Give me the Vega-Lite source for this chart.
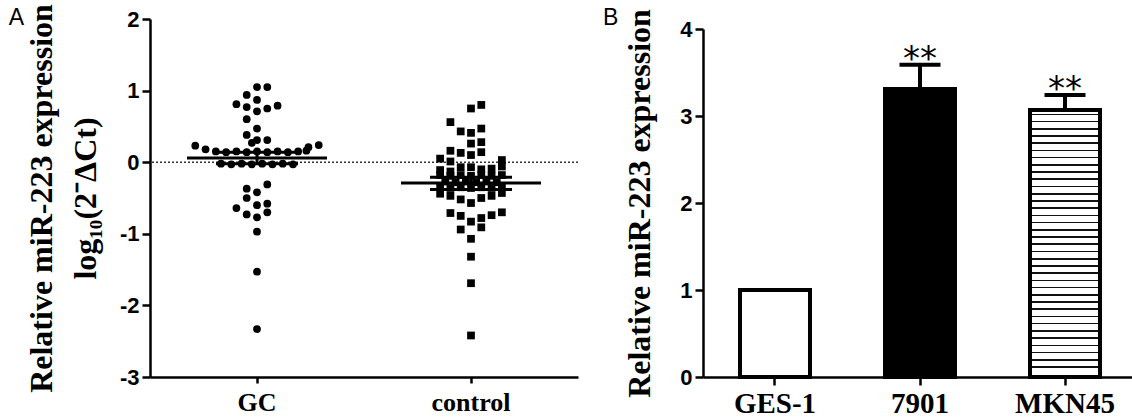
{
  "$schema": "https://vega.github.io/schema/vega-lite/v6.json",
  "padding": {"left": 8, "top": 3, "right": 0, "bottom": 0},
  "background": "white",
  "spacing": 24,
  "config": {
    "view": {"stroke": null},
    "axis": {"grid": false, "domainColor": "black", "tickColor": "black", "labelColor": "black", "titleColor": "black", "domainWidth": 2.5, "tickWidth": 2.5},
    "title": {"color": "black"}
  },
  "datasets": {
    "pts": [
      {"group": "GC", "value": 1.05, "col": 0}, {"group": "GC", "value": 1.05, "col": 1}, {"group": "GC", "value": 0.94, "col": -1},
      {"group": "GC", "value": 0.87, "col": 0}, {"group": "GC", "value": 0.81, "col": -2}, {"group": "GC", "value": 0.77, "col": -1},
      {"group": "GC", "value": 0.71, "col": 0}, {"group": "GC", "value": 0.75, "col": 1}, {"group": "GC", "value": 0.79, "col": 2},
      {"group": "GC", "value": 0.60, "col": -1}, {"group": "GC", "value": 0.47, "col": 0}, {"group": "GC", "value": 0.38, "col": -1},
      {"group": "GC", "value": 0.31, "col": 0}, {"group": "GC", "value": 0.27, "col": -0.5}, {"group": "GC", "value": 0.31, "col": 1},
      {"group": "GC", "value": 0.23, "col": -6}, {"group": "GC", "value": 0.18, "col": -5}, {"group": "GC", "value": 0.21, "col": 5},
      {"group": "GC", "value": 0.24, "col": 6},
      {"group": "GC", "value": 0.15, "col": -4}, {"group": "GC", "value": 0.14, "col": -3}, {"group": "GC", "value": 0.15, "col": -2},
      {"group": "GC", "value": 0.14, "col": -1}, {"group": "GC", "value": 0.15, "col": 0}, {"group": "GC", "value": 0.14, "col": 1},
      {"group": "GC", "value": 0.15, "col": 2}, {"group": "GC", "value": 0.14, "col": 3}, {"group": "GC", "value": 0.15, "col": 4},
      {"group": "GC", "value": 0.16, "col": 4.8},
      {"group": "GC", "value": -0.02, "col": -3.5}, {"group": "GC", "value": -0.03, "col": -2.5}, {"group": "GC", "value": -0.02, "col": -1.5},
      {"group": "GC", "value": -0.03, "col": -0.5}, {"group": "GC", "value": -0.02, "col": 0.5}, {"group": "GC", "value": -0.03, "col": 1.5},
      {"group": "GC", "value": -0.02, "col": 2.5}, {"group": "GC", "value": -0.03, "col": 3.5},
      {"group": "GC", "value": -0.31, "col": 1}, {"group": "GC", "value": -0.37, "col": -1}, {"group": "GC", "value": -0.42, "col": 0},
      {"group": "GC", "value": -0.50, "col": -1}, {"group": "GC", "value": -0.58, "col": 1}, {"group": "GC", "value": -0.60, "col": 0},
      {"group": "GC", "value": -0.64, "col": -2}, {"group": "GC", "value": -0.70, "col": 1}, {"group": "GC", "value": -0.73, "col": -1},
      {"group": "GC", "value": -0.77, "col": 0}, {"group": "GC", "value": -0.97, "col": 0}, {"group": "GC", "value": -1.53, "col": 0},
      {"group": "GC", "value": -2.33, "col": 0},
      {"group": "control", "value": 0.80, "col": 1}, {"group": "control", "value": 0.75, "col": 0}, {"group": "control", "value": 0.56, "col": -2},
      {"group": "control", "value": 0.47, "col": 1}, {"group": "control", "value": 0.43, "col": -1}, {"group": "control", "value": 0.41, "col": 0},
      {"group": "control", "value": 0.28, "col": 1}, {"group": "control", "value": 0.26, "col": 0}, {"group": "control", "value": 0.16, "col": -2},
      {"group": "control", "value": 0.14, "col": 1}, {"group": "control", "value": 0.13, "col": -1}, {"group": "control", "value": 0.10, "col": 0},
      {"group": "control", "value": 0.05, "col": -3}, {"group": "control", "value": 0.01, "col": -2}, {"group": "control", "value": 0.03, "col": 3},
      {"group": "control", "value": -0.11, "col": -3}, {"group": "control", "value": -0.13, "col": -2}, {"group": "control", "value": -0.07, "col": -1},
      {"group": "control", "value": -0.07, "col": 0}, {"group": "control", "value": -0.10, "col": 1}, {"group": "control", "value": -0.09, "col": 2},
      {"group": "control", "value": -0.06, "col": 3},
      {"group": "control", "value": -0.18, "col": -3}, {"group": "control", "value": -0.19, "col": -2}, {"group": "control", "value": -0.18, "col": -1},
      {"group": "control", "value": -0.19, "col": 0}, {"group": "control", "value": -0.18, "col": 1}, {"group": "control", "value": -0.19, "col": 2},
      {"group": "control", "value": -0.18, "col": 3},
      {"group": "control", "value": -0.27, "col": -2.5}, {"group": "control", "value": -0.28, "col": -1.5}, {"group": "control", "value": -0.27, "col": -0.5},
      {"group": "control", "value": -0.28, "col": 0.5}, {"group": "control", "value": -0.27, "col": 1.5}, {"group": "control", "value": -0.28, "col": 2.5},
      {"group": "control", "value": -0.35, "col": -3}, {"group": "control", "value": -0.36, "col": -2}, {"group": "control", "value": -0.35, "col": -1},
      {"group": "control", "value": -0.36, "col": 0}, {"group": "control", "value": -0.35, "col": 1}, {"group": "control", "value": -0.36, "col": 2},
      {"group": "control", "value": -0.35, "col": 3},
      {"group": "control", "value": -0.43, "col": 3}, {"group": "control", "value": -0.44, "col": -3}, {"group": "control", "value": -0.47, "col": -2},
      {"group": "control", "value": -0.52, "col": -1}, {"group": "control", "value": -0.57, "col": 0}, {"group": "control", "value": -0.50, "col": 1},
      {"group": "control", "value": -0.47, "col": 2},
      {"group": "control", "value": -0.71, "col": -2}, {"group": "control", "value": -0.75, "col": -1}, {"group": "control", "value": -0.83, "col": 0},
      {"group": "control", "value": -0.78, "col": 1}, {"group": "control", "value": -0.74, "col": 2}, {"group": "control", "value": -0.70, "col": 3},
      {"group": "control", "value": -0.94, "col": -1}, {"group": "control", "value": -0.91, "col": 1}, {"group": "control", "value": -1.07, "col": 0},
      {"group": "control", "value": -1.32, "col": 0}, {"group": "control", "value": -1.69, "col": 0}, {"group": "control", "value": -2.42, "col": 0}
    ],
    "summ": [
      {"group": "GC", "mean": 0.06, "lo": -0.02, "hi": 0.14},
      {"group": "control", "mean": -0.29, "lo": -0.38, "hi": -0.21}
    ],
    "bars": [
      {"cell": "GES-1", "mean": 1.0, "hi": null, "sig": ""},
      {"cell": "7901", "mean": 3.31, "hi": 3.59, "sig": "**"},
      {"cell": "MKN45", "mean": 3.07, "hi": 3.24, "sig": "**"}
    ]
  },
  "hconcat": [
    {
      "width": 428,
      "height": 358,
      "title": {"text": "A", "orient": "left", "anchor": "end", "frame": "group", "angle": 0, "align": "right", "baseline": "top", "dy": -12, "offset": -14, "fontSize": 23, "fontWeight": "normal", "font": "Liberation Sans"},
      "layer": [
        {
          "data": {"values": [{}]},
          "mark": {"type": "rule", "strokeDash": [2, 2], "strokeWidth": 1.5, "color": "#333"},
          "encoding": {"y": {"datum": 0, "type": "quantitative"}}
        },
        {
          "data": {"name": "pts"},
          "mark": {"type": "point", "filled": true, "size": 60, "opacity": 1, "color": "black"},
          "encoding": {
            "x": {"field": "group", "type": "nominal", "sort": ["GC", "control"],
                  "scale": {"type": "band", "paddingInner": 0, "paddingOuter": 0},
                  "axis": {"title": null, "labelAngle": 0, "tickSize": 6, "labelPadding": 6, "labelFont": "Liberation Serif", "labelFontWeight": "bold", "labelFontSize": 26}},
            "xOffset": {"field": "col", "type": "quantitative", "scale": {"domain": [-10.4, 10.4]}},
            "y": {"field": "value", "type": "quantitative",
                  "scale": {"domain": [-3, 2], "nice": false, "zero": false},
                  "axis": {"values": [-3, -2, -1, 0, 1, 2], "labelExpr": "'' + datum.value", "tickSize": 8, "labelPadding": 3,
                           "labelFont": "Liberation Sans", "labelFontWeight": "bold", "labelFontSize": 22,
                           "title": ["Relative miR-223 expression", "log₁₀(2⁻ΔCt)"], "titleFont": "Liberation Serif", "titleFontWeight": "bold", "titleFontSize": 32, "titleLineHeight": 44, "titlePadding": 17}},
            "shape": {"field": "group", "type": "nominal", "scale": {"domain": ["GC", "control"], "range": ["circle", "square"]}, "legend": null}
          }
        },
        {
          "data": {"name": "summ"},
          "mark": {"type": "tick", "thickness": 3, "size": 140, "color": "black", "opacity": 1},
          "encoding": {
            "x": {"field": "group", "type": "nominal", "sort": ["GC", "control"], "scale": {"type": "band", "paddingInner": 0, "paddingOuter": 0}},
            "y": {"field": "mean", "type": "quantitative"}
          }
        },
        {
          "data": {"name": "summ"},
          "mark": {"type": "rule", "strokeWidth": 3, "color": "black", "opacity": 1},
          "encoding": {
            "x": {"field": "group", "type": "nominal", "sort": ["GC", "control"], "scale": {"type": "band", "paddingInner": 0, "paddingOuter": 0}},
            "y": {"field": "lo", "type": "quantitative"},
            "y2": {"field": "hi"}
          }
        },
        {
          "data": {"name": "summ"},
          "mark": {"type": "tick", "thickness": 3, "size": 82, "color": "black", "opacity": 1},
          "encoding": {
            "x": {"field": "group", "type": "nominal", "sort": ["GC", "control"], "scale": {"type": "band", "paddingInner": 0, "paddingOuter": 0}},
            "y": {"field": "lo", "type": "quantitative"}
          }
        },
        {
          "data": {"name": "summ"},
          "mark": {"type": "tick", "thickness": 3, "size": 82, "color": "black", "opacity": 1},
          "encoding": {
            "x": {"field": "group", "type": "nominal", "sort": ["GC", "control"], "scale": {"type": "band", "paddingInner": 0, "paddingOuter": 0}},
            "y": {"field": "hi", "type": "quantitative"}
          }
        }
      ]
    },
    {
      "width": 434,
      "height": 358,
      "data": {"name": "bars"},
      "title": {"text": "B", "orient": "left", "anchor": "end", "frame": "group", "angle": 0, "align": "right", "baseline": "top", "dy": -12, "offset": -10, "fontSize": 23, "fontWeight": "normal", "font": "Liberation Sans"},
      "layer": [
        {
          "mark": {"type": "bar", "stroke": "black", "strokeWidth": 4, "strokeJoin": "miter", "width": 70},
          "encoding": {
            "x": {"field": "cell", "type": "nominal", "sort": ["GES-1", "7901", "MKN45"],
                  "scale": {"type": "band", "paddingInner": 0.517, "paddingOuter": 0.255},
                  "axis": {"title": null, "labelAngle": 0, "tickSize": 8, "labelPadding": 4, "labelFont": "Liberation Serif", "labelFontWeight": "bold", "labelFontSize": 29}},
            "y": {"field": "mean", "type": "quantitative",
                  "scale": {"domain": [0, 4], "nice": false, "range": [358, 10]},
                  "axis": {"values": [0, 1, 2, 3, 4], "labelExpr": "'' + datum.value", "tickSize": 8, "labelPadding": 3, "labelFont": "Liberation Sans", "labelFontWeight": "bold", "labelFontSize": 22,
                           "title": "Relative miR-223 expression", "titleFont": "Liberation Serif", "titleFontWeight": "bold", "titleFontSize": 32, "titlePadding": 23}},
            "fill": {
              "condition": [
                {"test": "datum.cell === '7901'", "value": "black"},
                {"test": "datum.cell === 'MKN45'", "value": {"gradient": "linear", "x1": 0, "y1": 0, "x2": 0, "y2": 1, "stops": [
                  {"offset": 0, "color": "white"},
                  {"offset": 0.0135, "color": "white"}, {"offset": 0.0135, "color": "#111"}, {"offset": 0.0195, "color": "#111"}, {"offset": 0.0195, "color": "white"},
                  {"offset": 0.0405, "color": "white"}, {"offset": 0.0405, "color": "#111"}, {"offset": 0.0465, "color": "#111"}, {"offset": 0.0465, "color": "white"},
                  {"offset": 0.0676, "color": "white"}, {"offset": 0.0676, "color": "#111"}, {"offset": 0.0736, "color": "#111"}, {"offset": 0.0736, "color": "white"},
                  {"offset": 0.0946, "color": "white"}, {"offset": 0.0946, "color": "#111"}, {"offset": 0.1006, "color": "#111"}, {"offset": 0.1006, "color": "white"},
                  {"offset": 0.1216, "color": "white"}, {"offset": 0.1216, "color": "#111"}, {"offset": 0.1276, "color": "#111"}, {"offset": 0.1276, "color": "white"},
                  {"offset": 0.1486, "color": "white"}, {"offset": 0.1486, "color": "#111"}, {"offset": 0.1546, "color": "#111"}, {"offset": 0.1546, "color": "white"},
                  {"offset": 0.1757, "color": "white"}, {"offset": 0.1757, "color": "#111"}, {"offset": 0.1817, "color": "#111"}, {"offset": 0.1817, "color": "white"},
                  {"offset": 0.2027, "color": "white"}, {"offset": 0.2027, "color": "#111"}, {"offset": 0.2087, "color": "#111"}, {"offset": 0.2087, "color": "white"},
                  {"offset": 0.2297, "color": "white"}, {"offset": 0.2297, "color": "#111"}, {"offset": 0.2357, "color": "#111"}, {"offset": 0.2357, "color": "white"},
                  {"offset": 0.2568, "color": "white"}, {"offset": 0.2568, "color": "#111"}, {"offset": 0.2628, "color": "#111"}, {"offset": 0.2628, "color": "white"},
                  {"offset": 0.2838, "color": "white"}, {"offset": 0.2838, "color": "#111"}, {"offset": 0.2898, "color": "#111"}, {"offset": 0.2898, "color": "white"},
                  {"offset": 0.3108, "color": "white"}, {"offset": 0.3108, "color": "#111"}, {"offset": 0.3168, "color": "#111"}, {"offset": 0.3168, "color": "white"},
                  {"offset": 0.3378, "color": "white"}, {"offset": 0.3378, "color": "#111"}, {"offset": 0.3438, "color": "#111"}, {"offset": 0.3438, "color": "white"},
                  {"offset": 0.3649, "color": "white"}, {"offset": 0.3649, "color": "#111"}, {"offset": 0.3709, "color": "#111"}, {"offset": 0.3709, "color": "white"},
                  {"offset": 0.3919, "color": "white"}, {"offset": 0.3919, "color": "#111"}, {"offset": 0.3979, "color": "#111"}, {"offset": 0.3979, "color": "white"},
                  {"offset": 0.4189, "color": "white"}, {"offset": 0.4189, "color": "#111"}, {"offset": 0.4249, "color": "#111"}, {"offset": 0.4249, "color": "white"},
                  {"offset": 0.4459, "color": "white"}, {"offset": 0.4459, "color": "#111"}, {"offset": 0.4519, "color": "#111"}, {"offset": 0.4519, "color": "white"},
                  {"offset": 0.473, "color": "white"}, {"offset": 0.473, "color": "#111"}, {"offset": 0.479, "color": "#111"}, {"offset": 0.479, "color": "white"},
                  {"offset": 0.5, "color": "white"}, {"offset": 0.5, "color": "#111"}, {"offset": 0.506, "color": "#111"}, {"offset": 0.506, "color": "white"},
                  {"offset": 0.527, "color": "white"}, {"offset": 0.527, "color": "#111"}, {"offset": 0.533, "color": "#111"}, {"offset": 0.533, "color": "white"},
                  {"offset": 0.5541, "color": "white"}, {"offset": 0.5541, "color": "#111"}, {"offset": 0.5601, "color": "#111"}, {"offset": 0.5601, "color": "white"},
                  {"offset": 0.5811, "color": "white"}, {"offset": 0.5811, "color": "#111"}, {"offset": 0.5871, "color": "#111"}, {"offset": 0.5871, "color": "white"},
                  {"offset": 0.6081, "color": "white"}, {"offset": 0.6081, "color": "#111"}, {"offset": 0.6141, "color": "#111"}, {"offset": 0.6141, "color": "white"},
                  {"offset": 0.6351, "color": "white"}, {"offset": 0.6351, "color": "#111"}, {"offset": 0.6411, "color": "#111"}, {"offset": 0.6411, "color": "white"},
                  {"offset": 0.6622, "color": "white"}, {"offset": 0.6622, "color": "#111"}, {"offset": 0.6682, "color": "#111"}, {"offset": 0.6682, "color": "white"},
                  {"offset": 0.6892, "color": "white"}, {"offset": 0.6892, "color": "#111"}, {"offset": 0.6952, "color": "#111"}, {"offset": 0.6952, "color": "white"},
                  {"offset": 0.7162, "color": "white"}, {"offset": 0.7162, "color": "#111"}, {"offset": 0.7222, "color": "#111"}, {"offset": 0.7222, "color": "white"},
                  {"offset": 0.7432, "color": "white"}, {"offset": 0.7432, "color": "#111"}, {"offset": 0.7492, "color": "#111"}, {"offset": 0.7492, "color": "white"},
                  {"offset": 0.7703, "color": "white"}, {"offset": 0.7703, "color": "#111"}, {"offset": 0.7763, "color": "#111"}, {"offset": 0.7763, "color": "white"},
                  {"offset": 0.7973, "color": "white"}, {"offset": 0.7973, "color": "#111"}, {"offset": 0.8033, "color": "#111"}, {"offset": 0.8033, "color": "white"},
                  {"offset": 0.8243, "color": "white"}, {"offset": 0.8243, "color": "#111"}, {"offset": 0.8303, "color": "#111"}, {"offset": 0.8303, "color": "white"},
                  {"offset": 0.8514, "color": "white"}, {"offset": 0.8514, "color": "#111"}, {"offset": 0.8574, "color": "#111"}, {"offset": 0.8574, "color": "white"},
                  {"offset": 0.8784, "color": "white"}, {"offset": 0.8784, "color": "#111"}, {"offset": 0.8844, "color": "#111"}, {"offset": 0.8844, "color": "white"},
                  {"offset": 0.9054, "color": "white"}, {"offset": 0.9054, "color": "#111"}, {"offset": 0.9114, "color": "#111"}, {"offset": 0.9114, "color": "white"},
                  {"offset": 0.9324, "color": "white"}, {"offset": 0.9324, "color": "#111"}, {"offset": 0.9384, "color": "#111"}, {"offset": 0.9384, "color": "white"},
                  {"offset": 0.9595, "color": "white"}, {"offset": 0.9595, "color": "#111"}, {"offset": 0.9655, "color": "#111"}, {"offset": 0.9655, "color": "white"},
                  {"offset": 1, "color": "white"}
                ]}}
              ],
              "value": "white"
            }
          }
        },
        {
          "transform": [{"filter": "datum.hi != null"}],
          "mark": {"type": "rule", "strokeWidth": 4, "color": "black", "opacity": 1},
          "encoding": {
            "x": {"field": "cell", "type": "nominal", "sort": ["GES-1", "7901", "MKN45"]},
            "y": {"field": "mean", "type": "quantitative"},
            "y2": {"field": "hi"}
          }
        },
        {
          "transform": [{"filter": "datum.hi != null"}],
          "mark": {"type": "tick", "thickness": 4, "size": 41, "color": "black", "opacity": 1},
          "encoding": {
            "x": {"field": "cell", "type": "nominal", "sort": ["GES-1", "7901", "MKN45"]},
            "y": {"field": "hi", "type": "quantitative"}
          }
        },
        {
          "transform": [{"filter": "datum.hi != null"}],
          "mark": {"type": "text", "fontSize": 34, "baseline": "alphabetic", "dy": 5, "font": "DejaVu Sans", "color": "black"},
          "encoding": {
            "x": {"field": "cell", "type": "nominal", "sort": ["GES-1", "7901", "MKN45"]},
            "y": {"field": "hi", "type": "quantitative"},
            "text": {"field": "sig"}
          }
        }
      ]
    }
  ]
}
